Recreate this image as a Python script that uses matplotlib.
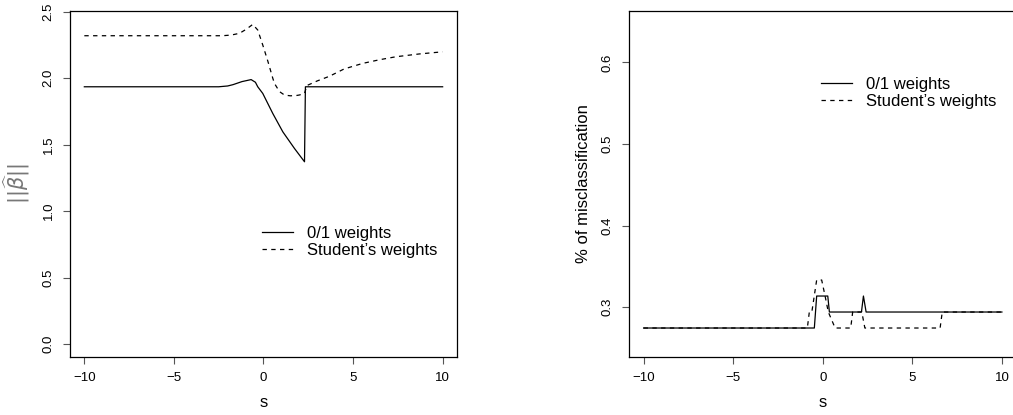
import matplotlib
matplotlib.use("Agg")
import matplotlib.pyplot as plt

plt.rcParams['font.family'] = ['Liberation Sans', 'DejaVu Sans']
plt.rcParams['mathtext.fontset'] = 'dejavusans'

# left panel: norm of beta-hat against s
s_norm_01 = [-10, -2.5, -2.0, -1.7, -1.2, -0.69, -0.45, -0.32, -0.04, 0.52, 1.08,
             1.73, 2.29, 2.34, 10]
norm_01 = [1.936, 1.936, 1.942, 1.952, 1.975, 1.99, 1.97, 1.936, 1.886, 1.735,
           1.597, 1.472, 1.372, 1.936, 1.936]

s_norm_st = [-10, -2.3, -1.8, -1.34, -0.97, -0.6, -0.32, -0.04, 0.24, 0.52, 0.61,
             0.89, 1.17, 1.5, 1.82, 2.0, 2.29, 2.42, 3.0, 3.68, 4.5, 5.54, 6.5,
             7.4, 8.7, 10]
norm_st = [2.32, 2.32, 2.325, 2.338, 2.368, 2.405, 2.363, 2.25, 2.13, 2.0, 1.962,
           1.9, 1.874, 1.868, 1.87, 1.874, 1.886, 1.945, 1.98, 2.015, 2.07, 2.112,
           2.14, 2.162, 2.183, 2.199]

# right panel: misclassification rate against s
s_mis_01 = [-10, -0.47, -0.34, 0.28, 0.37, 2.16, 2.27, 2.42, 10]
mis_01 = [0.2745, 0.2745, 0.3137, 0.3137, 0.2941, 0.2941, 0.3137, 0.2941, 0.2941]

s_mis_st = [-10, -0.86, -0.75, -0.61, -0.34, -0.06, 0.13, 0.31, 0.69, 1.56, 1.67,
            2.18, 2.35, 6.55, 6.67, 10]
mis_st = [0.2745, 0.2745, 0.2941, 0.2941, 0.3333, 0.3333, 0.3137, 0.2941, 0.2745,
          0.2745, 0.2941, 0.2941, 0.2745, 0.2745, 0.2941, 0.2941]

labels = ["0/1 weights", "Student\u2019s weights"]
xticks = [-10, -5, 0, 5, 10]

fig = plt.figure(figsize=(10.13, 4.15), dpi=100)
ax1 = fig.add_axes([0.0691, 0.1398, 0.382, 0.8337])
ax2 = fig.add_axes([0.6212, 0.1398, 0.382, 0.8337])

dash = (0, (3.5, 3.5))
lw = 0.9

ax1.plot(s_norm_01, norm_01, color='black', lw=lw, label=labels[0])
ax1.plot(s_norm_st, norm_st, color='black', lw=lw, linestyle=dash, label=labels[1])
ax1.set_ylim(-0.0964, 2.506)
ax1.set_yticks([0.0, 0.5, 1.0, 1.5, 2.0, 2.5])
ax1.set_yticklabels(["0.0", "0.5", "1.0", "1.5", "2.0", "2.5"])
ax1.set_ylabel(r'$||\widehat{\beta}||$', fontsize=15, color='#777777')
ax1.yaxis.set_label_coords(-0.098, 0.5)

ax2.plot(s_mis_01, mis_01, color='black', lw=lw, label=labels[0])
ax2.plot(s_mis_st, mis_st, color='black', lw=lw, linestyle=dash, label=labels[1])
ax2.set_ylim(0.239, 0.663)
ax2.set_yticks([0.3, 0.4, 0.5, 0.6])
ax2.set_yticklabels(["0.3", "0.4", "0.5", "0.6"])
ax2.set_ylabel("% of misclassification", fontsize=12, labelpad=8)

legend_pos = {ax1: (0.4954, 0.3324), ax2: (0.4946, 0.763)}
for ax in (ax1, ax2):
    ax.set_xlim(-10.8, 10.8)
    ax.set_xticks(xticks)
    ax.set_xticklabels(["\u221210", "\u22125", "0", "5", "10"])
    ax.set_xlabel("s", fontsize=12, labelpad=8)
    ax.tick_params(axis='both', length=5, width=0.8, color='#555555', labelsize=9.5, pad=6)
    for t in ax.get_yticklabels():
        t.set_rotation(90)
        t.set_va('center')
    for sp in ax.spines.values():
        sp.set_linewidth(0.9)
    ax.legend(loc='center left', bbox_to_anchor=legend_pos[ax], frameon=False,
              fontsize=12, handlelength=1.86, handletextpad=0.84, labelspacing=0.1,
              borderpad=0, borderaxespad=0)

fig.savefig("out.png", dpi=100)
